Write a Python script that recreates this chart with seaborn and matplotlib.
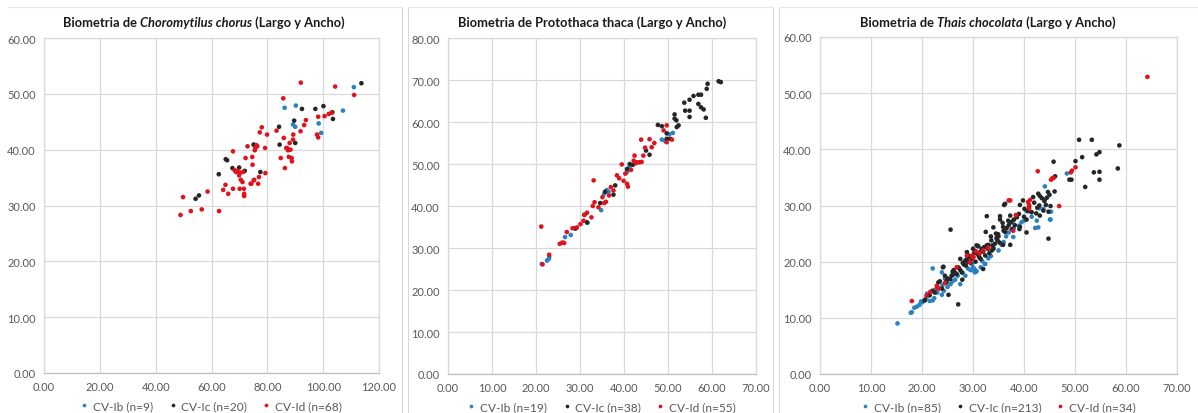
import pandas as pd
import seaborn as sns
import matplotlib.pyplot as plt
from matplotlib.lines import Line2D
from matplotlib.ticker import FormatStrFormatter

# Choromytilus chorus (largo, ancho)
choro_ib = [(75.2, 40.9), (86.2, 47.5), (89.2, 44.5), (90.0, 44.1), (90.2, 47.9), (98.4, 44.7),
            (99.3, 43.0), (107.1, 47.0), (111.0, 51.2)]
choro_ic = [(54.3, 31.2), (55.5, 31.8), (62.6, 35.6), (65.1, 38.3), (65.6, 38.1), (67.5, 36.7),
            (69.9, 36.8), (71.9, 36.2), (75.1, 40.9), (77.5, 36.0), (84.2, 44.1), (84.4, 40.9),
            (89.6, 45.2), (90.0, 41.2), (92.4, 47.3), (97.2, 47.3), (100.1, 47.8), (103.3, 46.7),
            (103.5, 45.5), (113.7, 51.9)]
choro_id = [(48.9, 28.3), (49.8, 31.5), (52.6, 29.0), (56.5, 29.3), (58.6, 32.5), (62.7, 29.0),
            (64.2, 32.8), (65.0, 33.7), (66.0, 32.1), (67.7, 39.7), (67.7, 33.0), (68.3, 36.3),
            (68.8, 36.0), (69.2, 36.2), (69.9, 35.4), (70.3, 35.9), (70.1, 33.0), (70.5, 34.6),
            (71.1, 34.2), (71.3, 36.0), (71.7, 32.1), (71.7, 31.7), (71.6, 33.0), (72.2, 38.5),
            (72.9, 40.6), (74.0, 33.9), (74.3, 33.9), (74.6, 38.7), (74.7, 37.3), (75.1, 34.5),
            (75.3, 34.6), (75.5, 39.9), (75.7, 40.3), (76.1, 40.8), (76.4, 40.6), (76.7, 33.9),
            (77.0, 35.1), (77.3, 43.1), (78.0, 44.0), (79.2, 40.3), (79.3, 35.8), (79.9, 42.7),
            (83.3, 43.4), (84.8, 38.5), (85.7, 49.2), (85.9, 42.1), (86.3, 36.7), (86.8, 40.3),
            (87.1, 40.3), (87.4, 39.9), (87.7, 38.7), (88.0, 41.2), (88.3, 40.0), (88.8, 37.9),
            (88.7, 38.5), (89.3, 42.7), (89.2, 41.8), (92.0, 52.0), (91.9, 43.3), (93.2, 44.4),
            (93.8, 45.3), (97.8, 42.7), (98.2, 42.2), (98.2, 45.9), (100.5, 46.0), (102.0, 46.4),
            (103.0, 46.6), (104.3, 51.3), (111.1, 49.8)]

# Protothaca thaca
proto_ib = [(21.3, 26.2), (22.5, 27.0), (22.9, 27.4), (23.0, 27.8), (26.6, 32.6), (27.9, 33.1),
            (31.7, 36.0), (34.8, 39.0), (35.5, 42.9), (35.9, 43.4), (36.1, 43.8), (36.5, 43.4),
            (40.7, 48.1), (41.2, 49.2), (48.6, 55.8), (49.4, 55.4), (50.3, 57.1), (51.1, 57.4),
            (29.0, 34.6)]
proto_ic = [(28.9, 34.7), (31.0, 37.9), (31.6, 36.1), (34.6, 40.7), (35.7, 43.4), (37.6, 42.7),
            (38.0, 44.9), (40.7, 48.8), (41.3, 50.0), (42.0, 49.8), (45.0, 53.2), (45.8, 52.2),
            (47.7, 59.3), (48.6, 59.0), (49.7, 56.0), (49.7, 57.3), (50.5, 56.0), (51.5, 61.8),
            (51.5, 60.8), (51.9, 60.4), (52.4, 59.2), (52.0, 58.8), (53.7, 64.6), (53.9, 62.7),
            (54.9, 62.7), (54.9, 61.2), (54.9, 65.3), (55.8, 66.2), (56.9, 66.5), (57.5, 66.5),
            (56.9, 64.3), (57.5, 63.5), (58.1, 63.0), (58.6, 61.0), (58.8, 67.9), (59.0, 69.1),
            (61.5, 69.7), (62.0, 69.5)]
proto_id = [(21.2, 35.1), (21.5, 26.1), (23.0, 28.4), (25.4, 31.0), (26.0, 31.3), (26.4, 31.2),
            (27.0, 33.8), (28.3, 34.7), (29.3, 34.9), (30.1, 35.7), (30.8, 36.5), (31.0, 37.9),
            (31.6, 38.4), (32.6, 37.3), (33.1, 46.1), (32.9, 40.0), (33.3, 40.9), (34.2, 39.7),
            (35.1, 42.1), (35.5, 40.7), (35.9, 41.0), (36.6, 42.5), (37.0, 44.5), (37.6, 43.7),
            (38.4, 47.3), (38.9, 46.6), (39.5, 49.9), (39.9, 46.0), (40.3, 47.7), (40.7, 45.3),
            (40.9, 44.6), (41.6, 48.6), (42.2, 50.8), (42.4, 52.0), (42.9, 50.4), (43.5, 50.4),
            (43.9, 55.8), (44.4, 52.0), (44.8, 53.9), (45.8, 55.9), (46.3, 54.0), (46.9, 55.0),
            (49.0, 58.0), (49.7, 59.2), (49.7, 55.2), (50.9, 55.8), (44.0, 50.5), (42.7, 50.2)]

# Thais chocolata
thais_ib = [(15.2, 9.0), (17.8, 10.9), (18.5, 11.8), (19.0, 12.0), (18.0, 11.0), (20.1, 12.8),
            (20.9, 13.7), (22.1, 13.1), (22.4, 13.5), (22.1, 18.8), (23.9, 14.1), (24.3, 14.8),
            (22.5, 15.0), (23.9, 18.1), (27.5, 16.0), (30.3, 18.7), (30.4, 18.1), (30.7, 18.3),
            (30.1, 18.4), (32.3, 19.6), (32.4, 19.6), (31.5, 19.0), (29.5, 18.5), (28.5, 17.5),
            (26.0, 16.5), (25.0, 15.5), (21.5, 13.0), (19.5, 12.3), (24.5, 17.0), (33.5, 21.0),
            (35.0, 22.0), (36.0, 23.5), (37.9, 24.4), (37.9, 27.3), (38.6, 28.2), (38.0, 26.0),
            (40.0, 27.3), (39.5, 27.0), (42.2, 26.0), (42.5, 27.3), (42.8, 26.1), (43.8, 29.4),
            (44.1, 31.1), (44.1, 33.4), (45.3, 28.9), (45.1, 27.5), (45.2, 27.5), (48.4, 35.7),
            (31.0, 22.7), (34.0, 22.5), (36.5, 24.5), (26.5, 16.8), (28.0, 18.0), (23.0, 14.5),
            (40.5, 29.0), (41.5, 28.0), (43.0, 29.5), (30.0, 19.0), (29.0, 18.8), (27.0, 17.5),
            (19.8, 12.9), (21.0, 14.3), (24.0, 15.8), (25.6, 16.0), (29.8, 19.6), (31.8, 20.1),
            (33.0, 20.6), (35.6, 23.0), (37.0, 25.2), (39.0, 26.4)]
thais_ic = [(20.5, 13.1), (20.6, 13.2), (21.5, 14.0), (22.5, 14.5), (23.2, 16.3), (23.5, 16.5),
            (23.9, 15.2), (24.1, 19.0), (24.2, 19.1), (24.8, 16.3), (24.8, 16.6), (25.2, 14.1),
            (25.5, 16.9), (25.6, 25.7), (25.8, 17.5), (26.0, 17.6), (26.5, 18.0), (27.1, 12.4),
            (27.5, 20.5), (27.5, 18.5), (27.8, 18.1), (27.9, 16.8), (28.2, 19.5), (28.8, 21.7),
            (29.1, 21.1), (29.5, 19.8), (29.8, 20.5), (30.2, 21.5), (30.7, 22.9), (30.5, 20.0),
            (31.0, 22.8), (31.4, 21.7), (31.7, 22.3), (31.2, 20.8), (32.0, 18.7), (32.4, 21.1),
            (32.5, 25.3), (32.7, 22.9), (32.7, 28.1), (32.9, 22.3), (33.2, 21.5), (33.6, 23.8),
            (33.7, 22.0), (34.0, 22.3), (34.0, 26.1), (34.3, 23.2), (34.6, 24.2), (35.2, 23.4),
            (35.3, 27.5), (35.3, 28.1), (35.8, 26.9), (35.9, 23.0), (35.9, 26.2), (36.1, 30.1),
            (36.3, 25.3), (36.3, 30.3), (36.9, 27.3), (37.3, 23.0), (37.3, 28.2), (37.6, 25.8),
            (38.2, 26.5), (39.1, 25.8), (39.2, 26.2), (39.2, 30.1), (39.8, 30.9), (40.0, 28.0),
            (40.1, 29.4), (40.5, 25.2), (41.5, 28.8), (41.8, 31.5), (42.4, 28.6), (42.8, 32.1),
            (43.1, 31.7), (43.1, 28.2), (43.5, 31.3), (43.8, 29.1), (44.3, 30.1), (44.7, 32.4),
            (44.8, 24.1), (44.8, 28.9), (45.0, 31.9), (45.2, 29.9), (45.8, 37.8), (46.1, 35.2),
            (48.9, 34.6), (49.3, 34.6), (50.1, 37.9), (50.8, 41.7), (51.4, 38.6), (52.0, 33.3),
            (53.3, 41.7), (53.7, 35.9), (54.2, 39.1), (54.8, 39.5), (54.8, 36.0), (54.8, 34.6),
            (58.4, 36.6), (58.7, 40.7), (22.0, 14.8), (23.0, 15.5), (24.5, 17.5), (25.0, 17.0),
            (26.2, 18.5), (26.8, 17.8), (27.0, 19.0), (28.0, 19.8), (28.5, 20.2), (29.0, 20.0),
            (30.0, 21.0), (30.8, 21.5), (31.5, 20.5), (32.0, 21.8), (33.0, 23.0), (34.5, 25.0),
            (35.0, 24.5), (36.0, 25.5), (37.0, 26.5), (38.0, 27.5), (39.0, 28.5), (40.5, 27.5),
            (41.0, 29.8), (42.0, 30.5), (43.0, 30.0), (44.0, 30.8), (46.0, 32.5), (37.5, 27.0),
            (34.8, 23.8), (33.5, 24.5), (26.0, 18.2), (27.2, 18.9), (28.6, 19.3), (29.3, 20.9),
            (30.4, 21.9), (31.1, 21.1), (32.2, 22.6), (33.8, 22.9), (34.9, 24.9), (36.6, 26.0),
            (38.6, 27.9), (40.8, 29.0), (42.6, 29.6), (44.5, 31.4), (30.0, 22.3), (28.9, 20.6)]
thais_id = [(18.0, 13.0), (20.9, 14.0), (21.6, 14.6), (22.9, 15.7), (23.0, 15.3), (23.3, 15.2),
            (24.5, 16.2), (26.8, 19.0), (28.8, 21.1), (29.4, 19.9), (29.9, 21.1), (29.9, 20.8),
            (30.1, 20.8), (30.6, 21.8), (31.3, 21.5), (32.0, 22.0), (33.0, 22.5), (37.0, 30.9),
            (37.3, 30.9), (37.9, 25.5), (38.4, 28.3), (40.8, 30.6), (41.0, 30.1), (41.0, 29.4),
            (41.2, 31.0), (42.7, 36.1), (45.6, 34.9), (45.8, 34.9), (45.3, 34.6), (46.9, 29.9),
            (49.2, 35.9), (49.4, 36.2), (50.1, 36.8), (64.2, 52.9)]

choro_labels = ['CV-Ib (n=9)', 'CV-Ic (n=20)', 'CV-Id (n=68)']
proto_labels = ['CV-Ib (n=19)', 'CV-Ic (n=38)', 'CV-Id (n=55)']
thais_labels = ['CV-Ib (n=85)', 'CV-Ic (n=213)', 'CV-Id (n=34)']
colores = ['#2b82c0', '#262626', '#e0121c']

sns.set_theme(style='white')
plt.rcParams['font.family'] = ['Lato', 'DejaVu Sans']

W, H = 1198, 414
fig = plt.figure(figsize=(W / 100, H / 100), dpi=100)


def tabla(series, labels):
    filas = []
    for pts, lab in zip(series, labels):
        for x, y in pts:
            filas.append((x, y, lab))
    return pd.DataFrame(filas, columns=['largo', 'ancho', 'grupo'])


def panel(rect, series, labels, xmax, xstep, ymax):
    ax = fig.add_axes([rect[0] / W, 1 - rect[3] / H, (rect[2] - rect[0]) / W, (rect[3] - rect[1]) / H])
    df = tabla(series, labels)
    sns.scatterplot(data=df, x='largo', y='ancho', hue='grupo', hue_order=labels,
                    palette=dict(zip(labels, colores)), s=11, linewidth=0, ax=ax)
    ax.set_xlim(0, xmax)
    ax.set_ylim(0, ymax)
    ax.set_xticks(range(0, xmax + 1, xstep))
    ax.set_yticks(range(0, ymax + 1, 10))
    ax.xaxis.set_major_formatter(FormatStrFormatter('%.2f'))
    ax.yaxis.set_major_formatter(FormatStrFormatter('%.2f'))
    ax.grid(True, color='#d9d9d9', linewidth=0.9)
    ax.set_axisbelow(True)
    for s in ax.spines.values():
        s.set_color('#d9d9d9')
        s.set_linewidth(0.9)
    ax.spines['bottom'].set_color('#bfbfbf')
    ax.tick_params(length=0, labelsize=8, labelcolor='#595959', pad=6)
    ax.set_xlabel('')
    ax.set_ylabel('')
    sns.move_legend(ax, 'center', bbox_to_anchor=(0.5, -0.098), ncol=3, frameon=False, title=None,
                    fontsize=8.6, handlelength=0.6, handletextpad=0.45, columnspacing=1.3,
                    markerscale=0.8, labelcolor='#595959')
    return ax


def titulo(ax, partes, cx, y):
    prev = None
    textos = []
    for s, estilo in partes:
        kw = dict(fontsize=9.3, fontweight='bold', style=estilo, color='#1a1a1a')
        if prev is None:
            t = fig.text(0, y, s, ha='left', va='bottom', **kw)
        else:
            t = ax.annotate(s, xy=(1, 0), xycoords=prev, ha='left', va='bottom',
                            annotation_clip=False, **kw)
        textos.append(t)
        prev = t
    return textos, cx


ax1 = panel((44, 39, 379, 374), [choro_ib, choro_ic, choro_id], choro_labels, 120, 20, 60)
t1 = titulo(ax1, [('Biometria de ', 'normal'), ('Choromytilus chorus', 'italic'), (' (Largo y Ancho)', 'normal')], 204, 1 - 29 / H)
ax2 = panel((448, 39, 756, 375), [proto_ib, proto_ic, proto_id], proto_labels, 70, 10, 80)
t2 = titulo(ax2, [('Biometria de Protothaca thaca (Largo y Ancho)', 'normal')], 592, 1 - 29 / H)
ax3 = panel((820, 38, 1177, 375), [thais_ib, thais_ic, thais_id], thais_labels, 70, 10, 60)
t3 = titulo(ax3, [('Biometria de ', 'normal'), ('Thais chocolata', 'italic'), (' (Largo y Ancho)', 'normal')], 988, 1 - 29 / H)

# bordes de los graficos
for x in (402, 408, 773, 779):
    fig.add_artist(Line2D([x / W, x / W], [0, 1 - 8 / H], color='#d9d9d9', linewidth=0.8))
for x0, x1 in ((8, 402), (408, 773), (779, 1198)):
    fig.add_artist(Line2D([x0 / W, x1 / W], [1 - 8 / H, 1 - 8 / H], color='#e6e6e6', linewidth=0.8))

# centrar titulos
fig.canvas.draw()
r = fig.canvas.get_renderer()
for textos, cx in (t1, t2, t3):
    x0 = textos[0].get_window_extent(r).x0
    x1 = textos[-1].get_window_extent(r).x1
    actual = (x0 + x1) / 2
    px, py = textos[0].get_position()
    textos[0].set_position((px + (cx - actual) / W, py))

fig.savefig('out.png', dpi=100)
